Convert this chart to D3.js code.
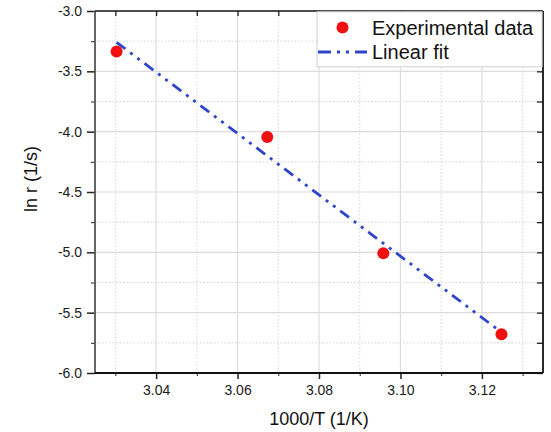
<!DOCTYPE html>
<html><head><meta charset="utf-8">
<script src="https://cdn.jsdelivr.net/npm/d3@7"></script>
<style>body{margin:0;background:#fff}svg{display:block;font-family:"Liberation Sans",Arial,sans-serif}</style>
</head><body><svg id="c" width="551" height="432"></svg>
<script>
const expX = [3.0303, 3.0673, 3.0958, 3.1248];
const expY = [-3.335, -4.045, -5.007, -5.678];
const fitX = [3.0303, 3.1245];
const fitY = [-3.26, -5.655];
const xMajor = [3.04, 3.06, 3.08, 3.10, 3.12];
const xMinor = [3.03, 3.05, 3.07, 3.09, 3.11, 3.13];
const yMajor = [-3.0, -3.5, -4.0, -4.5, -5.0, -5.5, -6.0];
const yMinor = [-3.25, -3.75, -4.25, -4.75, -5.25, -5.75];
const legendLabels = ["Experimental data", "Linear fit"];

(function () {
const L = 95, R = 543, T = 11, B = 373;
const svg = d3.select("#c");
const x = d3.scaleLinear().domain([3.025, 3.135]).range([L, R]);
const y = d3.scaleLinear().domain([-6.0, -3.0]).range([B, T]);

// grid
const g = svg.append("g");
g.selectAll(".vmin").data(xMinor).join("line").attr("x1", d => x(d)).attr("x2", d => x(d))
  .attr("y1", T).attr("y2", B).attr("stroke", "#c8c8c8").attr("stroke-width", 0.8).attr("stroke-dasharray", "1.5,2");
g.selectAll(".hmin").data(yMinor).join("line").attr("y1", d => y(d)).attr("y2", d => y(d))
  .attr("x1", L).attr("x2", R).attr("stroke", "#c8c8c8").attr("stroke-width", 0.8).attr("stroke-dasharray", "1.5,2");
g.selectAll(".vmaj").data(xMajor).join("line").attr("x1", d => x(d)).attr("x2", d => x(d))
  .attr("y1", T).attr("y2", B).attr("stroke", "#dcdcdc").attr("stroke-width", 1.2);
g.selectAll(".hmaj").data(yMajor.slice(1, -1)).join("line").attr("y1", d => y(d)).attr("y2", d => y(d))
  .attr("x1", L).attr("x2", R).attr("stroke", "#dcdcdc").attr("stroke-width", 1.2);

// axes
const fmtX = d3.format(".2f");
const fmtY = d => d.toFixed(1);
const ax = (gen, tr) => svg.append("g").attr("transform", tr).call(gen);
const style = sel => { sel.select(".domain").remove(); sel.selectAll("line").attr("stroke", "#222"); sel.selectAll("text").attr("font-size", 14).attr("fill", "#1a1a1a").attr("font-family", '"Liberation Sans",Arial,sans-serif'); };

const axB = ax(d3.axisBottom(x).tickValues(xMajor).tickFormat(fmtX).tickSize(6).tickPadding(6), `translate(0,${B})`);
style(axB); axB.selectAll("line").attr("stroke-width", 1.5);
const axBm = ax(d3.axisBottom(x).tickValues(xMinor).tickFormat("").tickSize(3), `translate(0,${B})`);
style(axBm);
const axL = ax(d3.axisLeft(y).tickValues(yMajor).tickFormat(fmtY).tickSize(8).tickPadding(5), `translate(${L},0)`);
style(axL); axL.selectAll("line").attr("stroke-width", 1.5);
const axLm = ax(d3.axisLeft(y).tickValues(yMinor).tickFormat("").tickSize(4), `translate(${L},0)`);
style(axLm);
const axT = ax(d3.axisTop(x).tickValues(xMajor.concat(xMinor)).tickFormat("").tickSize(-5), `translate(0,${T})`);
style(axT); axT.selectAll("line").attr("stroke-width", 1.3);
const axR = ax(d3.axisRight(y).tickValues(yMajor.concat(yMinor)).tickFormat("").tickSize(-6), `translate(${R},0)`);
style(axR); axR.selectAll("line").attr("stroke-width", 1.3);

// frame
svg.append("line").attr("x1", L).attr("x2", L).attr("y1", T).attr("y2", B).attr("stroke", "#555").attr("stroke-width", 1.8);
svg.append("line").attr("x1", L).attr("x2", R).attr("y1", B).attr("y2", B).attr("stroke", "#111").attr("stroke-width", 1.8);
svg.append("line").attr("x1", L).attr("x2", R).attr("y1", T).attr("y2", T).attr("stroke", "#111").attr("stroke-width", 1.6);
svg.append("line").attr("x1", R).attr("x2", R).attr("y1", T).attr("y2", B).attr("stroke", "#111").attr("stroke-width", 1.8);

// fit line
svg.append("path").datum(fitX.map((d, i) => [d, fitY[i]]))
  .attr("d", d3.line().x(d => x(d[0])).y(d => y(d[1])))
  .attr("fill", "none").attr("stroke", "#2f45c9").attr("stroke-width", 2.8).attr("stroke-dasharray", "11,6,3,6,3,6");

// points
svg.selectAll(".pt").data(expX.map((d, i) => [d, expY[i]])).join("circle")
  .attr("cx", d => x(d[0])).attr("cy", d => y(d[1])).attr("r", 6).attr("fill", "#f01010");

// legend
const lg = svg.append("g");
lg.append("rect").attr("x", 317).attr("y", T + 0.8).attr("width", R - 317 - 0.9).attr("height", 55)
  .attr("fill", "#fff").attr("stroke", "#d0d0d0").attr("stroke-width", 1);
lg.append("circle").attr("cx", 342.5).attr("cy", 27.5).attr("r", 6).attr("fill", "#f01010");
lg.append("line").attr("x1", 318).attr("x2", 367).attr("y1", 52).attr("y2", 52)
  .attr("stroke", "#2f45c9").attr("stroke-width", 2.8).attr("stroke-dasharray", "13,6,3,6,3,6");
lg.selectAll(".lt").data(legendLabels).join("text").attr("x", 372).attr("y", (d, i) => 34.5 + i * 24.5)
  .attr("font-size", 20).attr("fill", "#111").text(d => d);

// titles
svg.append("text").attr("x", (L + R) / 2).attr("y", 425).attr("text-anchor", "middle")
  .attr("font-size", 18).attr("fill", "#111").text("1000/T (1/K)");
svg.append("text").attr("transform", "translate(37,179) rotate(-90)").attr("text-anchor", "middle")
  .attr("font-size", 18).attr("fill", "#111").text("ln r (1/s)");
})();
</script></body></html>
